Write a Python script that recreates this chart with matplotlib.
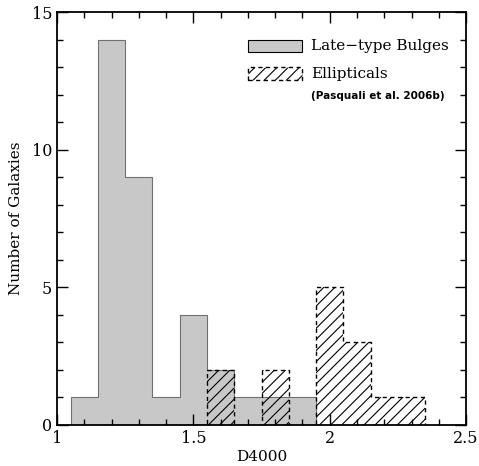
import matplotlib
matplotlib.use("Agg")
import matplotlib.pyplot as plt
import numpy as np
from matplotlib.patches import Rectangle

# bins of 0.1 in D4000
bin_edges = [1.05, 1.15, 1.25, 1.35, 1.45, 1.55, 1.65, 1.75, 1.85, 1.95, 2.05, 2.15, 2.25, 2.35]
bulge_counts = [1, 14, 9, 1, 4, 2, 1, 1, 1, 0, 0, 0, 0]
ellip_counts = [0, 0, 0, 0, 0, 2, 0, 2, 0, 5, 3, 1, 1]

plt.rcParams['font.family'] = ['DejaVu Serif']
plt.rcParams['hatch.linewidth'] = 0.8

fig = plt.figure(figsize=(4.79, 4.66), dpi=100)
ax = fig.add_axes([0.119, 0.088, 0.854, 0.886])

# late-type bulges: grey filled histogram
ax.stairs(bulge_counts, bin_edges, fill=True, facecolor='#c8c8c8', edgecolor='none')
ax.stairs(bulge_counts, bin_edges, color='#707070', linewidth=0.8)

# ellipticals: hatched, dashed outline
ax.stairs(ellip_counts, bin_edges, fill=True, facecolor='none', edgecolor='black',
          hatch='///', linewidth=0.0)
ax.stairs(ellip_counts, bin_edges, color='black', linewidth=1.0, linestyle=(0, (3, 2.5)))

ax.set_xlim(1, 2.5)
ax.set_ylim(0, 15)
ax.set_xticks([1, 1.5, 2, 2.5])
ax.set_xticklabels(['1', '1.5', '2', '2.5'])
ax.set_yticks([0, 5, 10, 15])
ax.set_xticks(np.arange(1, 2.5, 0.1), minor=True)
ax.set_yticks(np.arange(0, 15, 1), minor=True)
ax.tick_params(which='both', direction='in', top=True, right=True, labelsize=11.5, width=1)
ax.tick_params(which='major', length=8)
ax.tick_params(which='minor', length=4)
for s in ax.spines.values():
    s.set_linewidth(1.3)

ax.set_xlabel('D4000', fontsize=11, labelpad=2)
ax.set_ylabel('Number of Galaxies', fontsize=11, labelpad=6)

# legend drawn by hand
ax.add_patch(Rectangle((0.467, 0.903), 0.132, 0.029, transform=ax.transAxes,
                       facecolor='#c8c8c8', edgecolor='black', linewidth=0.8))
ax.add_patch(Rectangle((0.467, 0.835), 0.132, 0.031, transform=ax.transAxes,
                       facecolor='none', edgecolor='black', hatch='///',
                       linewidth=1.0, linestyle=(0, (3, 2.5))))
ax.text(0.621, 0.918, 'Late\u2212type Bulges', transform=ax.transAxes, fontsize=11, va='center')
ax.text(0.621, 0.850, 'Ellipticals', transform=ax.transAxes, fontsize=11, va='center')
ax.text(0.621, 0.797, '(Pasquali et al. 2006b)', transform=ax.transAxes, fontsize=7.5,
        va='center', family='DejaVu Sans', fontweight='bold')

fig.savefig('out.png', dpi=100)
